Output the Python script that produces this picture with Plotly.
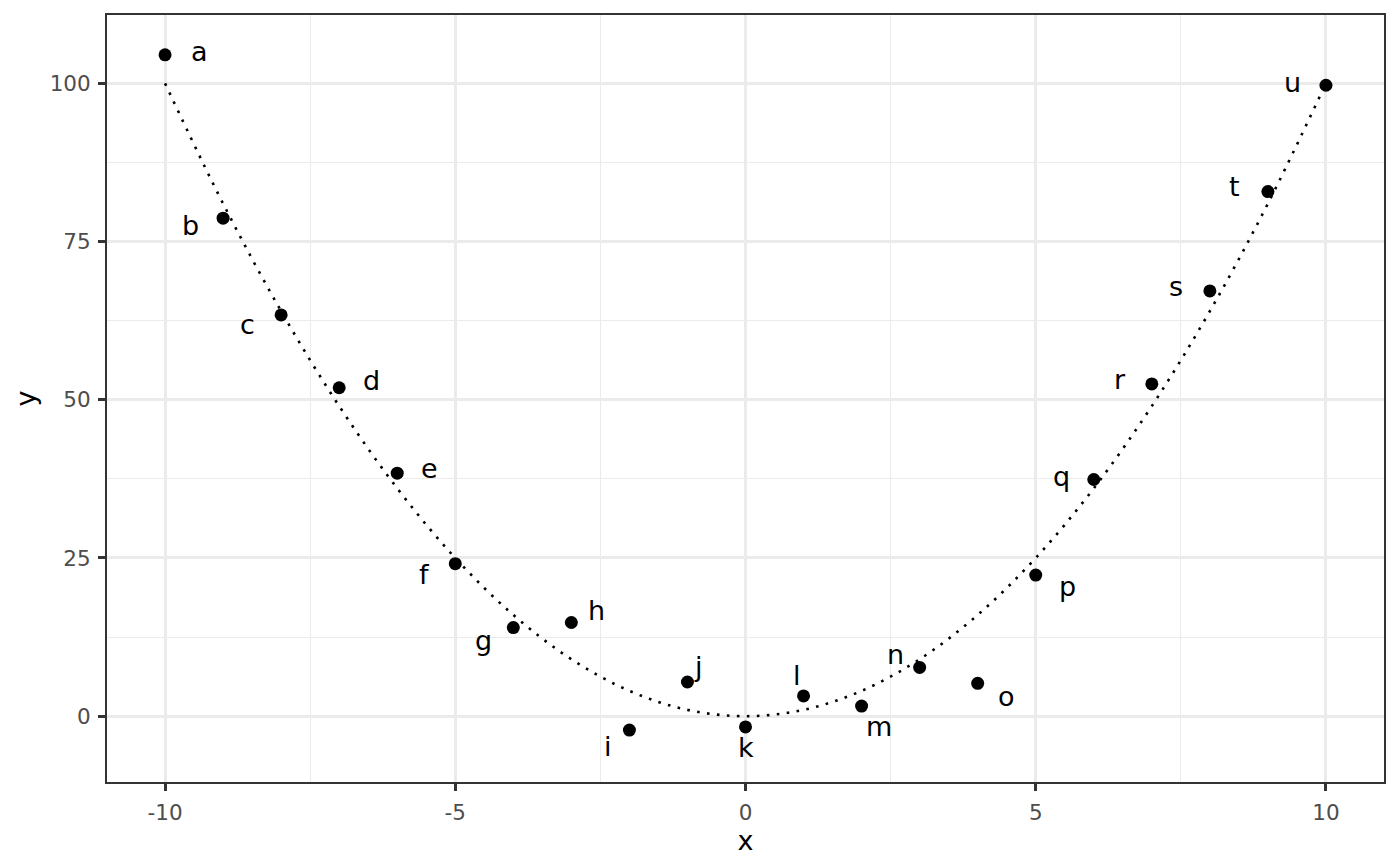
import plotly.graph_objects as go

# points
x_vals = [-10, -9, -8, -7, -6, -5, -4, -3, -2, -1, 0, 1, 2, 3, 4, 5, 6, 7, 8, 9, 10]
y_vals = [104.5, 78.7, 63.4, 51.9, 38.4, 24.1, 14.0, 14.8, -2.2, 5.4, -1.7,
          3.2, 1.6, 7.7, 5.2, 22.3, 37.4, 52.5, 67.2, 82.9, 99.7]
labels = list("abcdefghijklmnopqrstu")

# dotted reference curve
curve_x = [-10, -9, -8, -7, -6, -5, -4, -3, -2, -1, 0, 1, 2, 3, 4, 5, 6, 7, 8, 9, 10]
curve_y = [100, 81, 64, 49, 36, 25, 16, 9, 4, 1, 0, 1, 4, 9, 16, 25, 36, 49, 64, 81, 100]

# label offsets in pixels (repelled text positions)
label_dx = [34, -33, -34, 32, 32, -31, -30, 25, -21, 11, 0, -7, 17, -24, 29, 32, -32, -32, -34, -33, -33]
label_dy = [-3, 7, 10, -7, -5, 11, 13, -12, 16, -16, 21, -20, 20, -13, 13, 11, -3, -4, -4, -5, -3]

fig = go.Figure()

fig.add_trace(go.Scatter(
    x=curve_x, y=curve_y, mode="lines",
    line=dict(color="black", width=2.6, dash="2.6px,7.4px", shape="spline", smoothing=1.0),
    hoverinfo="skip", showlegend=False,
))

fig.add_trace(go.Scatter(
    x=x_vals, y=y_vals, mode="markers",
    marker=dict(color="black", size=13),
    showlegend=False,
))

for xv, yv, lab, dx, dy in zip(x_vals, y_vals, labels, label_dx, label_dy):
    fig.add_annotation(
        x=xv, y=yv, text=lab, showarrow=False,
        xshift=dx, yshift=-dy,
        font=dict(family="DejaVu Sans", size=27, color="black"),
    )

axis_common = dict(
    showline=True, linecolor="#333333", linewidth=2, mirror=True,
    ticks="outside", ticklen=7, tickwidth=2.5, tickcolor="#333333",
    tickfont=dict(family="DejaVu Sans", size=21.5, color="#4D4D4D"),
    showgrid=True, gridcolor="#EBEBEB", gridwidth=2.6,
    zeroline=False, ticklabelstandoff=3,
)

fig.update_xaxes(
    range=[-11, 11], tickvals=[-10, -5, 0, 5, 10], ticktext=["-10", "-5", "0", "5", "10"],
    minor=dict(tickvals=[-7.5, -2.5, 2.5, 7.5], showgrid=True, gridcolor="#EBEBEB", gridwidth=1.3, ticks=""),
    title=dict(text="x", font=dict(family="DejaVu Sans", size=27, color="black"), standoff=2),
    **axis_common,
)
fig.update_yaxes(
    range=[-10.4, 110.8], tickvals=[0, 25, 50, 75, 100],
    minor=dict(tickvals=[12.5, 37.5, 62.5, 87.5], showgrid=True, gridcolor="#EBEBEB", gridwidth=1.3, ticks=""),
    title=dict(text="y", font=dict(family="DejaVu Sans", size=27, color="black"), standoff=6),
    **axis_common,
)

fig.update_layout(
    width=1400, height=866,
    margin=dict(l=107, r=16, t=15, b=84),
    plot_bgcolor="white", paper_bgcolor="white",
    font=dict(family="DejaVu Sans"),
)

# drop the default page margin so the figure sits at the top-left corner
fig.write_html("out.html", config={"displayModeBar": False},
               post_script="document.body.style.margin='0';")
